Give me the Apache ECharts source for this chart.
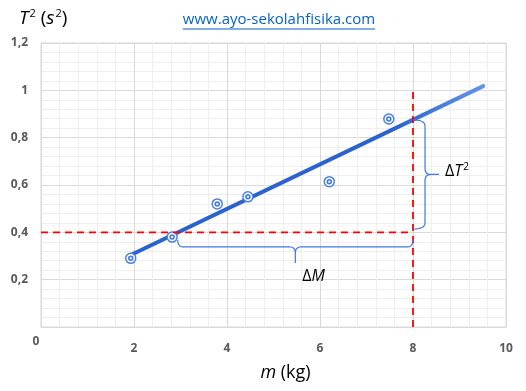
<!DOCTYPE html>
<html>
<head>
<meta charset="utf-8">
<script src="https://cdn.jsdelivr.net/npm/echarts@6/dist/echarts.min.js"></script>
<style>html,body{margin:0;padding:0;background:#fff}#chart{width:526px;height:391px}</style>
</head>
<body>
<div id="chart"></div>
<script>
// ---- data ----
const massKg   = [1.93, 2.82, 3.79, 4.45, 6.20, 7.48];
const periodSq = [0.29, 0.38, 0.52, 0.55, 0.614, 0.879];
const fitX = [1.93, 9.51];
const fitY = [0.304, 1.018];
const refHX = [0, 8];      // horizontal red dashed line (T^2 = 0.4)
const refHY = [0.4, 0.4];
const refVX = [8, 8];      // vertical red dashed line (m = 8)
const refVY = [0, 1];
const xTicks = [0, 2, 4, 6, 8, 10];
const yTicks = [0, 0.2, 0.4, 0.6, 0.8, 1, 1.2];
// braces: [x1, y1, x2, y2]
const braceM = [2.94, 0.368, 8.0, 0.368];
const braceT = [8.0, 0.414, 8.0, 0.875];
const braceLabels = ['{n|Δ}{i|M}', '{n|Δ}{i|T}{sup|2}'];
const siteText = 'www.ayo-sekolahfisika.com';

const chart = echarts.init(document.getElementById('chart'), null, {renderer: 'canvas'});
const FONT = '"Open Sans", sans-serif';
const labelCommon = {color: '#595959', fontWeight: 'bold', fontSize: 12, fontFamily: FONT};

function fmt(v) { return String(Math.round(v * 10) / 10).replace('.', ','); }

function quad(pts, p0, c, p1, n) {
  for (let k = 1; k <= n; k++) {
    const t = k / n, a = (1 - t) * (1 - t), b = 2 * (1 - t) * t, d = t * t;
    pts.push([a * p0[0] + b * c[0] + d * p1[0], a * p0[1] + b * c[1] + d * p1[1]]);
  }
}

function renderBrace(params, api) {
  const p1 = api.coord([api.value(0), api.value(1)]);
  const p2 = api.coord([api.value(2), api.value(3)]);
  const dx = p2[0] - p1[0], dy = p2[1] - p1[1];
  const L = Math.sqrt(dx * dx + dy * dy);
  const u = [dx / L, dy / L], nrm = [-u[1], u[0]];
  const horizontal = Math.abs(dx) > Math.abs(dy);
  const s = horizontal ? 7 : 12, d = horizontal ? 23 : 26, r = 6;
  const local = [[0, 0]];
  quad(local, [0, 0], [0, s], [r, s], 8);
  local.push([L / 2 - r, s]);
  quad(local, [L / 2 - r, s], [L / 2, s], [L / 2, s + r], 8);
  local.push([L / 2, d]);
  local.push([L / 2, s + r]);
  quad(local, [L / 2, s + r], [L / 2, s], [L / 2 + r, s], 8);
  local.push([L - r, s]);
  quad(local, [L - r, s], [L, s], [L, 0], 8);
  const pts = local.map(q => [p1[0] + u[0] * q[0] + nrm[0] * q[1], p1[1] + u[1] * q[0] + nrm[1] * q[1]]);
  const tip = [p1[0] + u[0] * L / 2 + nrm[0] * d, p1[1] + u[1] * L / 2 + nrm[1] * d];
  const tx = horizontal ? tip[0] + 7 : tip[0] + 6;
  const ty = horizontal ? tip[1] + 14 : tip[1] - 3;
  return {
    type: 'group',
    children: [
      {type: 'polyline', shape: {points: pts}, style: {stroke: '#3f7be3', fill: null, lineWidth: 1.2}},
      {type: 'text', x: tx, y: ty, style: {
        text: braceLabels[params.dataIndex], align: 'left', verticalAlign: 'middle',
        fill: '#000', fontFamily: FONT, fontSize: 16,
        rich: {
          n: {fontSize: 16, fontFamily: FONT, fill: '#000'},
          i: {fontSize: 16, fontFamily: FONT, fontStyle: 'italic', fill: '#000'},
          sup: {fontSize: 10, fontFamily: FONT, fill: '#000', verticalAlign: 'top', padding: [0, 0, 8, 1]}
        }
      }}
    ]
  };
}

const SITE_FONT_SIZE = 15;
const ctx = document.createElement('canvas').getContext('2d');
ctx.font = SITE_FONT_SIZE + 'px "Open Sans"';
const siteW = ctx.measureText(siteText).width;
const siteCx = 279;

const option = {
  animation: false,
  backgroundColor: '#fff',
  title: {
    text: '{i|T}{sup|2} ({i|s}{sup|2})',
    left: 14, top: 3,
    textStyle: {
      fontSize: 19, fontFamily: FONT, color: '#000', fontWeight: 'normal',
      rich: {
        i: {fontSize: 19, fontFamily: FONT, fontStyle: 'italic', color: '#000'},
        sup: {fontSize: 11, fontFamily: FONT, color: '#000', verticalAlign: 'top', padding: [0, 0, 10, 1]}
      }
    }
  },
  graphic: [
    {type: 'text', x: siteCx, y: 20, style: {text: siteText, align: 'center', verticalAlign: 'middle', fontSize: SITE_FONT_SIZE, fontFamily: FONT, fill: '#0563c1'}},
    {type: 'line', shape: {x1: siteCx - siteW / 2, y1: 29, x2: siteCx + siteW / 2, y2: 29}, style: {stroke: '#0563c1', lineWidth: 1}}
  ],
  grid: {left: 41, right: 20, top: 43, bottom: 64, show: true, borderColor: '#d9d9d9', borderWidth: 1},
  xAxis: {
    type: 'value', min: xTicks[0], max: xTicks[xTicks.length - 1], interval: xTicks[1] - xTicks[0],
    axisLine: {show: true, lineStyle: {color: '#d9d9d9'}},
    axisTick: {show: false},
    splitLine: {show: true, lineStyle: {color: '#d9d9d9'}},
    minorTick: {show: false, splitNumber: 5},
    minorSplitLine: {show: true, lineStyle: {color: '#efefef'}},
    axisLabel: Object.assign({}, labelCommon, {
      margin: 9, showMinLabel: true,
      formatter: v => v === 0 ? '{z|0}' : '{n|' + fmt(v) + '}',
      rich: {z: {padding: [0, 10, 0, 0]}, n: {padding: [7, 0, 0, 0]}}
    }),
    name: '{i|m} (kg)', nameLocation: 'middle', nameGap: 37,
    nameTextStyle: {
      fontSize: 18, fontFamily: FONT, color: '#000', padding: [0, 0, 0, 24],
      rich: {i: {fontSize: 18, fontFamily: FONT, fontStyle: 'italic', color: '#000'}}
    }
  },
  yAxis: {
    type: 'value', min: yTicks[0], max: yTicks[yTicks.length - 1], interval: yTicks[1] - yTicks[0],
    axisLine: {show: true, lineStyle: {color: '#d9d9d9'}},
    axisTick: {show: false},
    splitLine: {show: true, lineStyle: {color: '#d9d9d9'}},
    minorTick: {show: false, splitNumber: 5},
    minorSplitLine: {show: true, lineStyle: {color: '#efefef'}},
    axisLabel: Object.assign({}, labelCommon, {margin: 13, showMinLabel: false, formatter: fmt})
  },
  series: [
    {
      type: 'line', data: fitX.map((x, i) => [x, fitY[i]]), showSymbol: false, z: 3,
      lineStyle: {width: 4, cap: 'round', color: new echarts.graphic.LinearGradient(0, 0, 1, 0, [
        {offset: 0, color: '#2a62cf'}, {offset: 0.74, color: '#2a62cf'}, {offset: 1, color: '#6396ea'}
      ])}
    },
    {
      type: 'scatter', data: massKg.map((x, i) => [x, periodSq[i]]), z: 4,
      symbol: 'circle', symbolSize: 10,
      itemStyle: {color: '#ffffff', borderColor: '#4a80e3', borderWidth: 1.5, opacity: 1}
    },
    {
      type: 'scatter', data: massKg.map((x, i) => [x, periodSq[i]]), z: 5,
      symbol: 'circle', symbolSize: 4,
      itemStyle: {color: '#dfe9fb', borderColor: '#3f77e0', borderWidth: 1.5, opacity: 1}
    },
    {
      type: 'line', data: refHX.map((x, i) => [x, refHY[i]]), showSymbol: false, z: 6,
      lineStyle: {color: '#ff0000', width: 1.8, type: [7, 5]}
    },
    {
      type: 'line', data: refVX.map((x, i) => [x, refVY[i]]), showSymbol: false, z: 6,
      lineStyle: {color: '#ff0000', width: 1.8, type: [7, 5]}
    },
    {
      type: 'custom', renderItem: renderBrace, z: 7,
      dimensions: ['x1', 'y1', 'x2', 'y2'],
      encode: {x: [0, 2], y: [1, 3]},
      data: [braceM, braceT]
    }
  ]
};
chart.setOption(option);
</script>
</body>
</html>
